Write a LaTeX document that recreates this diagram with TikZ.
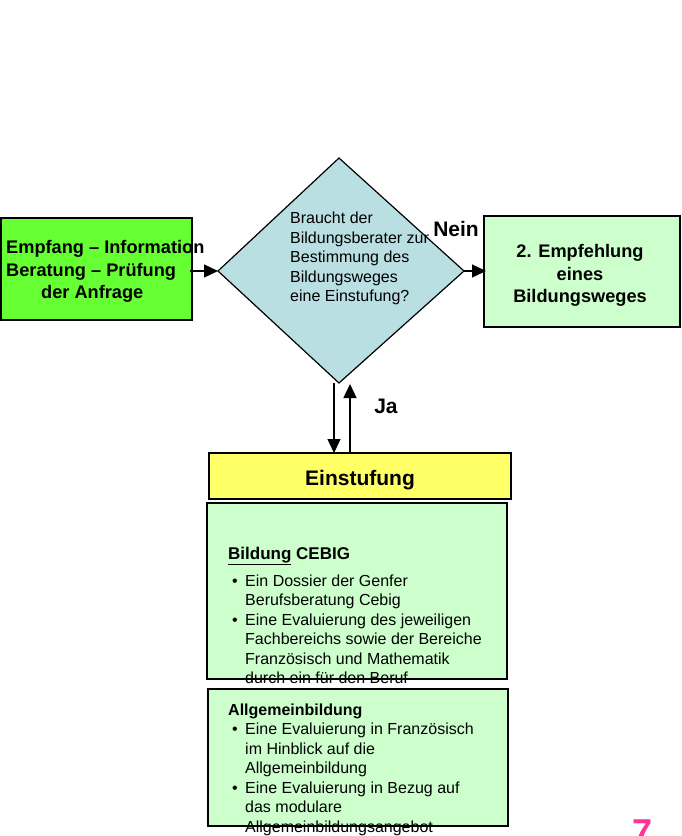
\documentclass[tikz,border=0pt]{standalone}
\usepackage{fontspec}
\setmainfont{Liberation Sans}
\usetikzlibrary{arrows.meta}
\definecolor{hellgruen}{HTML}{66FF33}
\definecolor{blassgruen}{HTML}{CCFFCC}
\definecolor{hellblau}{HTML}{BADFE3}
\definecolor{gelb}{HTML}{FFFF66}
\definecolor{pink}{HTML}{FF3399}
\tikzset{
  kasten/.style={draw=black,line width=1.3pt},
  pfeil/.style={line width=1.4pt,-{Triangle[length=14pt,width=13pt]}},
  fett/.style={font=\fontsize{18.2}{22.5}\selectfont\bfseries,align=center,inner sep=0pt},
  klein/.style={font=\fontsize{16}{19.5}\selectfont,align=left,inner sep=0pt,anchor=north west}
}
\newcommand{\punkt}{\makebox[13pt][l]{\textbullet}}
\newcommand{\weiter}{\hspace*{13pt}}
\begin{document}
\begin{tikzpicture}[x=1pt,y=-1pt]
\useasboundingbox (0,0) rectangle (681,836);
% Raute
\coordinate (Rt) at (339,158);
\coordinate (Rl) at (218,271);
\coordinate (Rr) at (464,271);
\coordinate (Rb) at (339,383);
\fill[hellblau] (Rt) -- (Rr) -- (Rb) -- (Rl) -- cycle;
\draw[line width=1.2pt,line join=miter] (Rt) -- (Rr) -- (Rb) -- (Rl) -- cycle;
\node[klein] (frage) at (290,212) {Braucht der\\Bildungsberater zur\\Bestimmung des\\Bildungsweges\\eine Einstufung?};
% Kaesten
\draw[kasten,fill=hellgruen] (1,218) rectangle (192,320);
\coordinate (El) at (190,271);
\node[fett,align=left,anchor=north west] (empfang) at (6,240.5) {Empfang – Information\\Beratung – Prüfung\\\hspace*{35pt}der Anfrage};
\draw[kasten,fill=blassgruen] (484,216) rectangle (680,327);
\coordinate (Er) at (486,271);
\node[fett] (empfehlung) at (580,275.5) {2. Empfehlung\\eines\\Bildungsweges};
\draw[kasten,fill=gelb] (209,453) rectangle (511,499);
\node[fett,font=\fontsize{21}{22}\selectfont\bfseries] (einstufung) at (360,480) {Einstufung};
\coordinate (Eo1) at (334,453);
\coordinate (Eo2) at (350,453);
\coordinate (Ru1) at (334,383);
\coordinate (Ru2) at (350,384);
\draw[kasten,fill=blassgruen] (207,503) rectangle (507,679);
\draw[kasten,fill=blassgruen] (208,689) rectangle (508,826);
\node[klein] (cebig) at (228,547) {{\fontsize{17}{19.5}\selectfont\textbf{\underline{Bildung} CEBIG}}\\[7pt]
\hspace*{4pt}\punkt Ein Dossier der Genfer\\
\hspace*{4pt}\weiter Berufsberatung Cebig\\
\hspace*{4pt}\punkt Eine Evaluierung des jeweiligen\\
\hspace*{4pt}\weiter Fachbereichs sowie der Bereiche\\
\hspace*{4pt}\weiter Französisch und Mathematik\\
\hspace*{4pt}\weiter durch ein für den Beruf};
\node[klein] (allg) at (228,703.5) {\textbf{Allgemeinbildung}\\
\hspace*{4pt}\punkt Eine Evaluierung in Französisch\\
\hspace*{4pt}\weiter im Hinblick auf die\\
\hspace*{4pt}\weiter Allgemeinbildung\\
\hspace*{4pt}\punkt Eine Evaluierung in Bezug auf\\
\hspace*{4pt}\weiter das modulare\\
\hspace*{4pt}\weiter Allgemeinbildungsangebot};
% Pfeile
\draw[pfeil] (El) -- (Rl);
\draw[pfeil] (Rr) -- (Er);
\draw[pfeil] (Ru1) -- (Eo1);
\draw[pfeil] (Eo2) -- (Ru2);
\node[fett,font=\fontsize{21}{22}\selectfont\bfseries] (nein) at (456,229) {Nein};
\node[fett,font=\fontsize{21}{22}\selectfont\bfseries] (ja) at (386,406) {Ja};
\node[font=\fontsize{36}{36}\selectfont\bfseries,text=pink,inner sep=0pt,anchor=north] (sieben) at (643,820) {7};
\end{tikzpicture}
\end{document}
